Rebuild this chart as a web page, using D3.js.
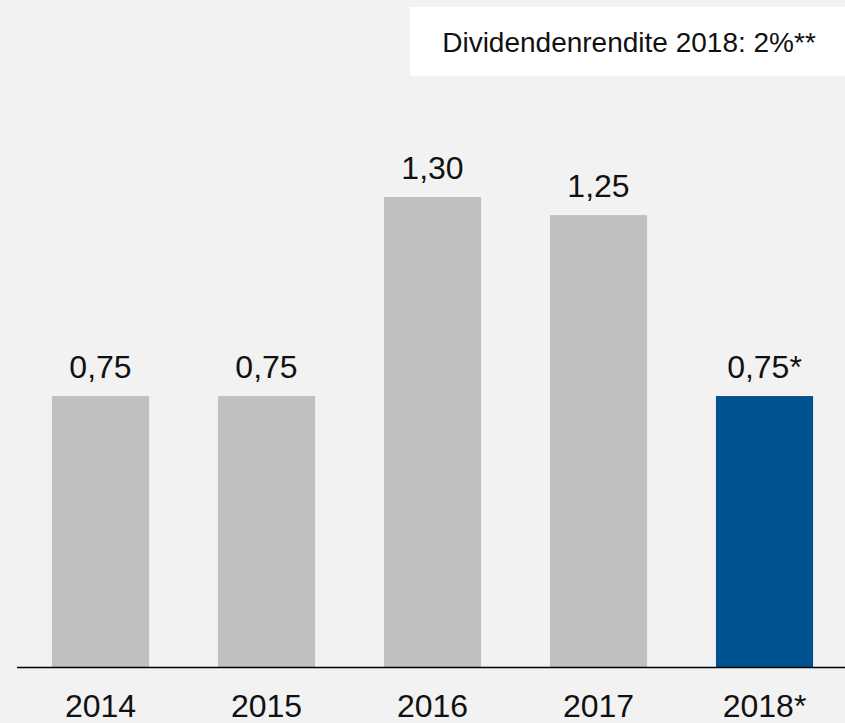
<!DOCTYPE html>
<html>
<head>
<meta charset="utf-8">
<script src="https://cdn.jsdelivr.net/npm/d3@7"></script>
<style>
	html, body { margin: 0; padding: 0; background: #f2f2f2; }
	svg { display: block; font-family: 'Liberation Sans', Arial, sans-serif; }
</style>
</head>
<body>
<div id="chart"></div>
<script>
const width = 845;
const height = 723;

// Data ==================================================================
const years = ['2014', '2015', '2016', '2017', '2018*'];
const dividends = [0.75, 0.75, 1.3, 1.25, 0.75];
const valueLabels = ['0,75', '0,75', '1,30', '1,25', '0,75*'];
const highlight = [false, false, false, false, true];
const noteText = 'Dividendenrendite 2018: 2%**';
// =================================================================

const data = years.map((y, i) => ({
	year: y,
	value: dividends[i],
	label: valueLabels[i],
	hi: highlight[i],
}));

const baseY = 667.5;

const svg = d3.select('#chart').append('svg').attr('width', width).attr('height', height);

svg.append('rect').attr('width', width).attr('height', height).attr('fill', '#f2f2f2');

// Note box
svg.append('rect').attr('x', 410).attr('y', 7).attr('width', 435).attr('height', 69).attr('fill', '#ffffff');
svg.append('text')
	.attr('x', 629)
	.attr('y', 52)
	.attr('text-anchor', 'middle')
	.attr('font-size', '28px')
	.attr('fill', '#111')
	.text(noteText);

// Scales
const xScale = d3
	.scaleBand()
	.domain(years)
	.range([17.5, 847.5])
	.paddingInner(0.415)
	.paddingOuter(0.2075);

const yScale = d3.scaleLinear().domain([0, 1.3]).range([baseY, 197]);

// Bars
svg.selectAll('.bar')
	.data(data)
	.enter()
	.append('rect')
	.attr('class', 'bar')
	.attr('x', (d) => xScale(d.year))
	.attr('width', xScale.bandwidth())
	.attr('y', (d) => yScale(d.value))
	.attr('height', (d) => baseY - yScale(d.value))
	.attr('fill', (d) => (d.hi ? '#005291' : '#c0c0c0'));

// Value labels
svg.selectAll('.val')
	.data(data)
	.enter()
	.append('text')
	.attr('class', 'val')
	.attr('x', (d) => xScale(d.year) + xScale.bandwidth() / 2)
	.attr('y', (d) => yScale(d.value) - 18)
	.attr('text-anchor', 'middle')
	.attr('font-size', '32px')
	.attr('fill', '#111')
	.text((d) => d.label);

// X axis
const xAxis = d3.axisBottom(xScale).tickSize(0).tickPadding(27);
const gx = svg.append('g').attr('transform', `translate(0, ${baseY})`).call(xAxis);
gx.select('.domain').attr('d', 'M17,0H845').attr('stroke', '#000').attr('stroke-width', 1.3);
gx.selectAll('text').attr('font-size', '32px').attr('fill', '#111').attr('font-family', 'Liberation Sans, Arial, sans-serif');
</script>
</body>
</html>
